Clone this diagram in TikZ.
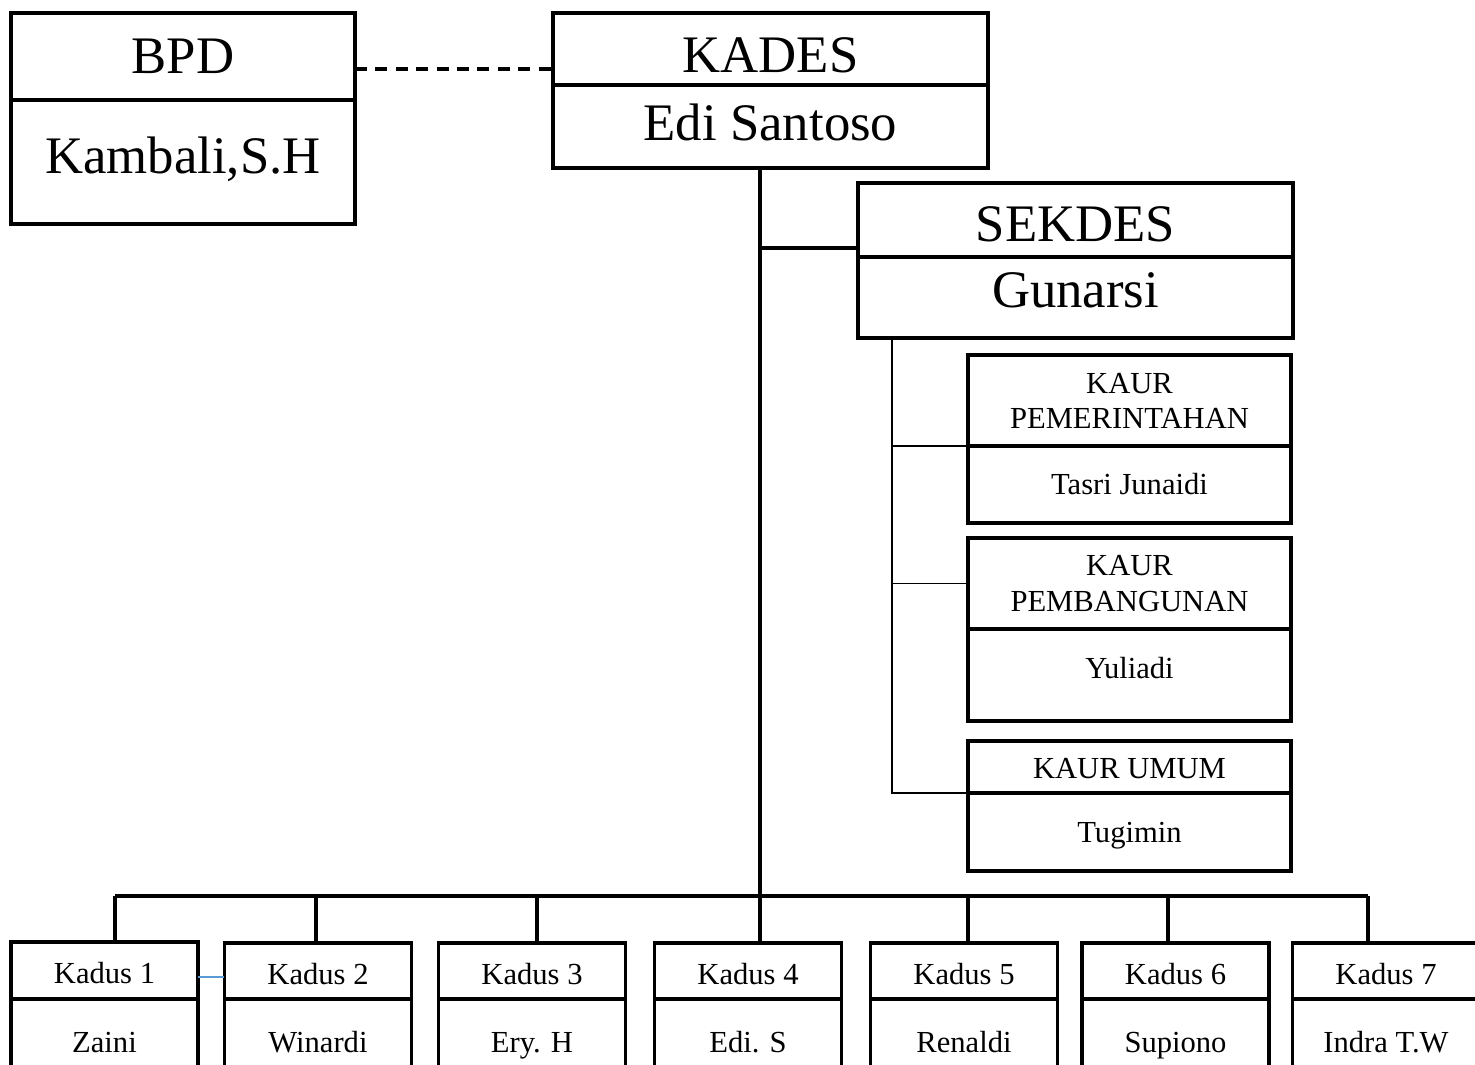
\documentclass[tikz,border=0pt]{standalone}
\usepackage{fontspec}
\setmainfont{Liberation Serif}
\usetikzlibrary{positioning}
\definecolor{linkblue}{RGB}{91,155,213}

\begin{document}
\begin{tikzpicture}[
  x=0.01cm, y=-0.01cm,
  big/.style={rectangle, draw, line width=1pt, inner sep=0pt, outer sep=0pt, text height=9.9pt, text depth=0pt, font=\fontsize{15}{18}\selectfont},
  kaur/.style={rectangle, draw, line width=1pt, inner sep=0pt, outer sep=0pt, minimum width=3.23cm, align=center, font=\fontsize{8.7}{10}\selectfont},
  kaurname/.style={kaur, text height=5.8pt, text depth=0pt},
  kadus/.style={rectangle, draw, line width=1pt, inner sep=0pt, outer sep=0pt, minimum width=1.87cm, text height=5.8pt, text depth=0pt, font=\fontsize{8.7}{10}\selectfont},
  link/.style={line width=0.9pt},
  sublink/.style={line width=0.5pt}
]
\useasboundingbox (0,0) rectangle (1475,1065);
\clip (0,0) rectangle (1475,1065);

\node[big, minimum width=3.44cm, minimum height=0.87cm] (bpd) at (183,56.5) {BPD};
\node[big, minimum width=3.44cm, minimum height=1.24cm, text depth=3.4pt, below=0pt of bpd] (bpdname) {Kambali,S.H};

\node[big, minimum width=4.35cm, minimum height=0.72cm, text height=13.3pt] (kades) at (770.5,49) {KADES};
\node[big, minimum width=4.35cm, minimum height=0.83cm, text depth=2pt, below=0pt of kades] (kadesname) {Edi Santoso};

\node[big, minimum width=4.35cm, minimum height=0.74cm, text height=12.5pt] (sekdes) at (1075.5,220) {SEKDES};
\node[big, minimum width=4.35cm, minimum height=0.81cm, text depth=4.3pt, below=0pt of sekdes] (sekdesname) {Gunarsi};

\node[kaur, minimum height=0.91cm] (kaur1) at (1129.5,400.5) {KAUR\\PEMERINTAHAN};
\node[kaurname, minimum height=0.77cm, below=0pt of kaur1] (kaur1name) {Tasri Junaidi};
\node[kaur, minimum height=0.91cm] (kaur2) at (1129.5,583.5) {KAUR\\PEMBANGUNAN};
\node[kaurname, minimum height=0.92cm, text depth=4pt, below=0pt of kaur2] (kaur2name) {Yuliadi};
\node[kaurname, minimum height=0.52cm, text height=6.6pt] (kaur3) at (1129.5,767) {KAUR UMUM};
\node[kaurname, minimum height=0.78cm, below=0pt of kaur3] (kaur3name) {Tugimin};

\node[kadus, minimum height=0.57cm, text height=7.5pt] (kadus1) at (104.5,970.5) {Kadus 1};
\node[kadus, minimum height=0.87cm, below=0pt of kadus1] (kadus1name) {Zaini};
\node[kadus, minimum height=0.56cm, text height=7.5pt] (kadus2) at (318,971) {Kadus 2};
\node[kadus, minimum height=0.87cm, below=0pt of kadus2] (kadus2name) {Winardi};
\node[kadus, minimum height=0.56cm, text height=7.5pt] (kadus3) at (532,971) {Kadus 3};
\node[kadus, minimum height=0.87cm, below=0pt of kadus3] (kadus3name) {Ery. H};
\node[kadus, minimum height=0.56cm, text height=7.5pt] (kadus4) at (748,971) {Kadus 4};
\node[kadus, minimum height=0.87cm, below=0pt of kadus4] (kadus4name) {Edi. S};
\node[kadus, minimum height=0.56cm, text height=7.5pt] (kadus5) at (964,971) {Kadus 5};
\node[kadus, minimum height=0.87cm, below=0pt of kadus5] (kadus5name) {Renaldi};
\node[kadus, minimum height=0.56cm, text height=7.5pt] (kadus6) at (1175.5,971) {Kadus 6};
\node[kadus, minimum height=0.87cm, below=0pt of kadus6] (kadus6name) {Supiono};
\node[kadus, minimum height=0.56cm, text height=7.5pt] (kadus7) at (1386,971) {Kadus 7};
\node[kadus, minimum height=0.87cm, below=0pt of kadus7] (kadus7name) {Indra T.W};

\coordinate (dashy) at (0,69);
\coordinate (bluey) at (0,977);
\coordinate (sekjoin) at (858,248);
\coordinate (spine) at (892,0);
\coordinate (bar1) at (115,896);
\coordinate (bar2) at (316,896);
\coordinate (bar3) at (537,896);
\coordinate (bar4) at (760,896);
\coordinate (bar5) at (968,896);
\coordinate (bar6) at (1168,896);
\coordinate (bar7) at (1368,896);

\draw[link, dash pattern=on 3.4pt off 2.4pt] (bpd.east |- dashy) -- (kades.west |- dashy);

\draw[link] (kadesname.south -| bar4) -- (bar4);
\draw[link] (bar4 |- sekjoin) -- (sekjoin);

\draw[sublink] (sekdesname.south -| spine) |- (kaur3.south west);
\draw[sublink] (spine |- kaur1.south west) -- (kaur1.south west);
\draw[sublink] (spine |- kaur2.west) -- (kaur2.west);

\draw[link] (bar1) -- (bar7);
\draw[link] (bar1) -- (bar1 |- kadus1.north);
\draw[link] (bar2) -- (bar2 |- kadus2.north);
\draw[link] (bar3) -- (bar3 |- kadus3.north);
\draw[link] (bar4) -- (bar4 |- kadus4.north);
\draw[link] (bar5) -- (bar5 |- kadus5.north);
\draw[link] (bar6) -- (bar6 |- kadus6.north);
\draw[link] (bar7) -- (bar7 |- kadus7.north);

\draw[sublink, linkblue] (kadus1.east |- bluey) -- (kadus2.west |- bluey);

\end{tikzpicture}
\end{document}
